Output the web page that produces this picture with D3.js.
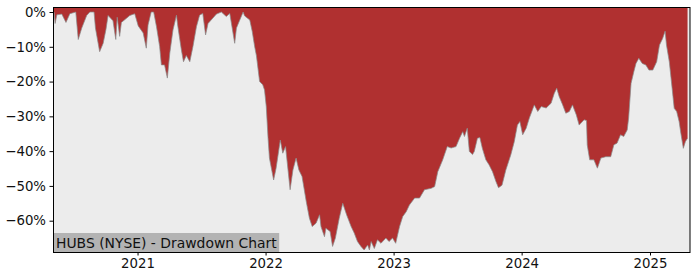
<!DOCTYPE html>
<html>
<head>
<meta charset="utf-8">
<script src="https://cdn.jsdelivr.net/npm/d3@7"></script>
<style>
  body { margin: 0; background: #fff; }
  text { font-family: "DejaVu Sans", sans-serif; }
</style>
</head>
<body>
<svg id="chart" width="700" height="280"></svg>
<script>
// dates of the drawdown points
var dates = [
  "2020-05-05", "2020-05-08", "2020-05-11", "2020-05-16", "2020-05-30", "2020-06-11", "2020-06-22",
  "2020-07-09", "2020-07-16", "2020-07-26", "2020-08-09", "2020-08-18", "2020-08-30", "2020-09-03",
  "2020-09-15", "2020-09-25", "2020-10-03", "2020-10-09", "2020-10-23", "2020-10-31", "2020-11-04",
  "2020-11-11", "2020-11-16", "2020-12-10", "2020-12-24", "2021-01-03", "2021-01-17", "2021-01-26",
  "2021-01-31", "2021-02-09", "2021-02-16", "2021-02-24", "2021-03-05", "2021-03-10", "2021-03-19",
  "2021-03-27", "2021-04-03", "2021-04-12", "2021-04-22", "2021-04-26", "2021-05-06", "2021-05-12",
  "2021-05-20", "2021-05-30", "2021-06-08", "2021-06-18", "2021-06-27", "2021-07-06", "2021-07-14",
  "2021-07-21", "2021-08-14", "2021-08-28", "2021-09-11", "2021-09-21", "2021-10-05", "2021-10-10",
  "2021-10-29", "2021-11-02", "2021-11-17", "2021-11-24", "2021-12-01", "2021-12-06", "2021-12-15",
  "2021-12-24", "2021-12-29", "2022-01-03", "2022-01-08", "2022-01-12", "2022-01-24", "2022-01-31",
  "2022-02-12", "2022-02-19", "2022-02-27", "2022-03-12", "2022-03-20", "2022-03-29", "2022-04-06",
  "2022-04-15", "2022-04-27", "2022-05-06", "2022-05-14", "2022-05-25", "2022-06-04", "2022-06-08",
  "2022-06-18", "2022-06-22", "2022-07-04", "2022-07-11", "2022-07-19", "2022-07-30", "2022-08-09",
  "2022-08-20", "2022-09-02", "2022-09-11", "2022-09-20", "2022-09-30", "2022-10-09", "2022-10-19",
  "2022-10-24", "2022-10-29", "2022-11-07", "2022-11-16", "2022-11-26", "2022-12-10", "2022-12-19",
  "2022-12-29", "2023-01-07", "2023-01-18", "2023-01-27", "2023-02-06", "2023-02-15", "2023-03-02",
  "2023-03-16", "2023-03-30", "2023-04-18", "2023-04-28", "2023-05-07", "2023-05-21", "2023-06-03",
  "2023-06-14", "2023-06-28", "2023-07-08", "2023-07-17", "2023-07-22", "2023-07-30", "2023-08-05",
  "2023-08-14", "2023-08-19", "2023-08-28", "2023-09-04", "2023-09-11", "2023-09-21", "2023-09-30",
  "2023-10-10", "2023-10-20", "2023-10-27", "2023-11-06", "2023-11-17", "2023-12-01", "2023-12-11",
  "2023-12-20", "2023-12-27", "2024-01-04", "2024-01-14", "2024-01-23", "2024-02-06", "2024-02-16",
  "2024-02-26", "2024-03-11", "2024-03-25", "2024-04-03", "2024-04-10", "2024-04-17", "2024-04-27",
  "2024-05-06", "2024-05-16", "2024-05-25", "2024-06-05", "2024-06-13", "2024-06-27", "2024-07-04",
  "2024-07-06", "2024-07-13", "2024-07-25", "2024-08-04", "2024-08-14", "2024-08-28", "2024-09-11",
  "2024-09-20", "2024-09-29", "2024-10-09", "2024-10-18", "2024-10-28", "2024-11-01", "2024-11-08",
  "2024-11-16", "2024-11-22", "2024-11-30", "2024-12-10", "2024-12-20", "2024-12-29", "2025-01-09",
  "2025-01-20", "2025-01-28", "2025-02-06", "2025-02-13", "2025-02-17", "2025-02-25", "2025-03-05",
  "2025-03-11", "2025-03-18", "2025-03-25", "2025-03-30", "2025-04-06", "2025-04-12", "2025-04-18"
];

// drawdown in percent
var drawdown = [
  0, 0, -3.3, -0.8, -0.6, -3.0, -0.5,
  0, -7.9, -4.6, -1.0, 0, 0, -4.6,
  -11.4, -9.0, -5.0, -1.0, -2.5, -7.9, -1.5,
  -7.0, -3.0, -1.0, -0.5, -4.0, -6.0, -10.4,
  -3.7, 0, 0, -4.2, -9.9, -15.2, -15.2,
  -19.0, -11.8, -5.2, -0.9, -4.2, -10.9, -14.3,
  -12.5, -14.3, -9.9, -4.2, -0.9, -0.4, -6.6,
  -3.3, -0.6, 0, -1.3, -0.4, -9.0, -4.6,
  0, -1.1, -2.3, -5.6, -10.0, -12.6, -20.0,
  -20.9, -22.4, -27.2, -36.1, -42.0, -48.3, -44.9,
  -36.8, -40.6, -38.7, -51.1, -45.4, -42.0, -45.4,
  -47.3, -54.5, -59.3, -61.7, -60.7, -58.3, -61.7,
  -64.6, -62.2, -63.1, -67.4, -65.0, -59.3, -55.0,
  -58.3, -61.7, -63.6, -66.0, -67.4, -68.4, -67.0,
  -68.4, -66.0, -68.0, -65.5, -66.5, -65.0, -66.0,
  -65.0, -66.5, -61.7, -58.8, -57.4, -55.5, -53.5,
  -53.5, -51.1, -50.7, -50.2, -45.9, -42.5, -38.7,
  -39.1, -38.7, -36.3, -34.4, -35.8, -33.4, -40.1,
  -41.0, -40.1, -36.3, -36.1, -39.2, -42.5, -43.9,
  -45.9, -48.8, -50.5, -49.8, -45.4, -41.1, -37.3,
  -32.5, -31.5, -35.3, -33.4, -30.5, -26.7, -28.6,
  -27.2, -27.6, -26.2, -23.4, -21.9, -24.3, -26.7,
  -29.1, -28.6, -26.7, -29.6, -32.5, -31.0, -31.2,
  -38.2, -42.5, -42.5, -44.9, -42.0, -41.6, -41.6,
  -38.2, -37.7, -35.3, -35.8, -33.9, -30.5, -20.5,
  -17.1, -14.8, -13.3, -14.8, -15.2, -16.7, -16.7,
  -14.3, -9.5, -7.6, -5.5, -9.5, -14.3, -21.9,
  -27.7, -28.6, -31.5, -34.9, -39.2, -37.2, -36.3
];

var yTicks = [0, -10, -20, -30, -40, -50, -60];
var xTicks = ["2021-01-01", "2022-01-01", "2023-01-01", "2024-01-01", "2025-01-01"];
var xTickLabels = ["2021", "2022", "2023", "2024", "2025"];
var title = "HUBS (NYSE) - Drawdown Chart";

var margin = { top: 7, right: 10, bottom: 28, left: 53 };
var width = 700 - margin.left - margin.right;
var height = 280 - margin.top - margin.bottom;

var parse = d3.timeParse("%Y-%m-%d");
var data = dates.map(function(d, i) {
  return { date: parse(d), dd: drawdown[i] };
});

var svg = d3.select("#chart");
var g = svg.append("g")
  .attr("transform", "translate(" + margin.left + "," + margin.top + ")");

var x = d3.scaleTime()
  .domain([parse("2020-05-05"), parse("2025-04-25")])
  .range([0, width]);

var y = d3.scaleLinear()
  .domain([-69.0, 1.44])
  .range([height, 0]);

g.append("clipPath").attr("id", "clip")
  .append("rect").attr("width", width).attr("height", height);

// plot background
g.append("rect")
  .attr("width", width)
  .attr("height", height)
  .attr("fill", "#ececec");

var area = d3.area()
  .x(function(d) { return x(d.date); })
  .y0(0)
  .y1(function(d) { return y(d.dd); });

var line = d3.line()
  .x(function(d) { return x(d.date); })
  .y(function(d) { return y(d.dd); });

var plot = g.append("g").attr("clip-path", "url(#clip)");

plot.append("path")
  .datum(data)
  .attr("d", area)
  .attr("fill", "#b03030");

plot.append("path")
  .datum(data)
  .attr("d", line)
  .attr("fill", "none")
  .attr("stroke", "#8a8a8a")
  .attr("stroke-opacity", 0.8)
  .attr("stroke-width", 0.9);

// title box at bottom left
var label = g.append("g").attr("transform", "translate(0," + height + ")");
var labelText = label.append("text")
  .attr("x", 3)
  .attr("y", -4.5)
  .attr("font-size", 13.9)
  .attr("fill", "#111")
  .text(title);
var bb = labelText.node().getBBox();
label.insert("rect", "text")
  .attr("x", 0)
  .attr("y", -19)
  .attr("width", bb.width + 5)
  .attr("height", 19)
  .attr("fill", "#b3b3b3");

// axes
var yAxis = d3.axisLeft(y)
  .tickValues(yTicks)
  .tickSize(3.5)
  .tickPadding(3.5)
  .tickFormat(function(d) { return (d < 0 ? "\u2212" + Math.abs(d) : d) + "%"; });

var xAxis = d3.axisBottom(x)
  .tickValues(xTicks.map(parse))
  .tickSize(3.5)
  .tickPadding(3.5)
  .tickFormat(function(d, i) { return xTickLabels[i]; });

g.append("g").call(yAxis)
  .call(function(s) { s.select(".domain").remove(); })
  .selectAll("text").attr("font-size", 13.3).attr("fill", "#111");

g.append("g").attr("transform", "translate(0," + height + ")").call(xAxis)
  .call(function(s) { s.select(".domain").remove(); })
  .selectAll("text").attr("font-size", 13.3).attr("fill", "#111");

g.selectAll(".tick line").attr("stroke", "#000");
g.selectAll(".tick text").attr("font-family", "DejaVu Sans");

// frame
g.append("rect")
  .attr("x", 0.5)
  .attr("y", 0.5)
  .attr("width", width - 0.5)
  .attr("height", height)
  .attr("fill", "none")
  .attr("stroke", "#000")
  .attr("stroke-width", 1);
</script>
</body>
</html>
